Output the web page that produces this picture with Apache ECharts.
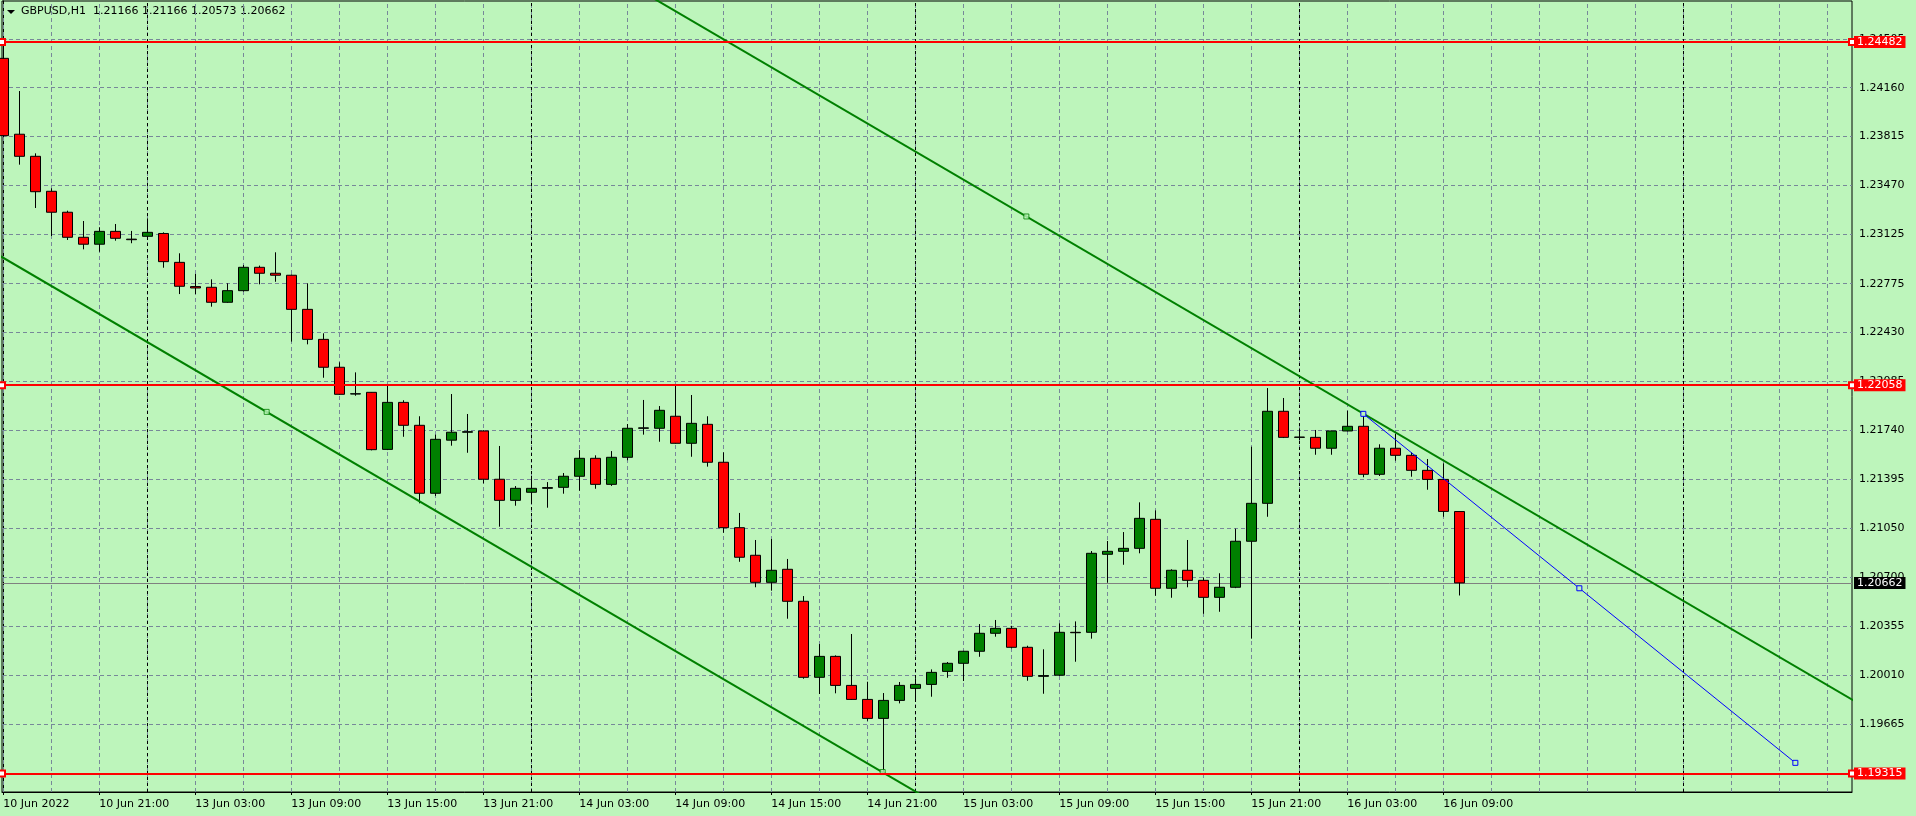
<!DOCTYPE html>
<html><head><meta charset="utf-8">
<script src="https://cdn.jsdelivr.net/npm/echarts@6/dist/echarts.min.js"></script>
<style>html,body{margin:0;padding:0;background:#bdf5bb;} #c{width:1916px;height:816px;}</style>
</head><body><div id="c"></div>
<script>
// ---- data (GBPUSD H1, bar index 0 = 10 Jun 2022 15:00) ----
const opens  = [1.24367,1.23831,1.23675,1.23428,1.23280,1.23103,1.23054,1.23145,1.23090,1.23110,
                1.23130,1.22926,1.22755,1.22750,1.22644,1.22726,1.22891,1.22849,1.22835,1.22594,
                1.22382,1.22185,1.21996,1.22008,1.21605,1.21937,1.21775,1.21295,1.21670,1.21726,
                1.21735,1.21394,1.21245,1.21302,1.21330,1.21337,1.21415,1.21542,1.21358,1.21549,
                1.21754,1.21754,1.21839,1.21648,1.21782,1.21514,1.21052,1.20857,1.20666,1.20758,
                1.20532,1.19995,1.20143,1.19938,1.19839,1.19705,1.19832,1.19917,1.19945,1.20037,
                1.20094,1.20179,1.20306,1.20341,1.20207,1.20002,1.20010,1.20313,1.20313,1.20864,
                1.20885,1.20906,1.21111,1.20624,1.20751,1.20680,1.20560,1.20631,1.20956,1.21224,
                1.21874,1.21690,1.21690,1.21613,1.21735,1.21768,1.21429,1.21613,1.21563,1.21457,
                1.21393,1.21166];
const closes = [1.23821,1.23675,1.23425,1.23280,1.23103,1.23054,1.23145,1.23096,1.23086,1.23138,
                1.22931,1.22757,1.22745,1.22644,1.22726,1.22891,1.22849,1.22835,1.22594,1.22382,
                1.22185,1.21994,1.21998,1.21603,1.21937,1.21775,1.21295,1.21676,1.21726,1.21730,
                1.21394,1.21245,1.21330,1.21330,1.21335,1.21415,1.21542,1.21358,1.21549,1.21754,
                1.21757,1.21881,1.21648,1.21789,1.21514,1.21052,1.20843,1.20666,1.20751,1.20532,
                1.19995,1.20143,1.19938,1.19839,1.19705,1.19832,1.19938,1.19945,1.20030,1.20094,
                1.20179,1.20306,1.20341,1.20207,1.20002,1.20007,1.20313,1.20310,1.20871,1.20885,
                1.20906,1.21118,1.20624,1.20751,1.20680,1.20560,1.20631,1.20956,1.21224,1.21874,
                1.21690,1.21692,1.21613,1.21735,1.21768,1.21429,1.21613,1.21563,1.21457,1.21393,
                1.21167,1.20662];
const lows   = [1.23810,1.23616,1.23310,1.23112,1.23084,1.23018,1.23001,1.23079,1.23061,1.23098,
                1.22888,1.22702,1.22702,1.22613,1.22640,1.22720,1.22771,1.22789,1.22366,1.22347,
                1.22111,1.21990,1.21984,1.21598,1.21600,1.21694,1.21224,1.21276,1.21631,1.21581,
                1.21365,1.21059,1.21207,1.21221,1.21193,1.21292,1.21313,1.21327,1.21347,1.21528,
                1.21709,1.21659,1.21645,1.21553,1.21483,1.21016,1.20811,1.20631,1.20607,1.20409,
                1.19985,1.19877,1.19882,1.19835,1.19688,1.19315,1.19811,1.19827,1.19858,1.19992,
                1.19969,1.20140,1.20282,1.20200,1.19971,1.19879,1.20005,1.20105,1.20268,1.20663,
                1.20790,1.20871,1.20571,1.20557,1.20631,1.20444,1.20458,1.20625,1.20268,1.21129,
                1.21685,1.21670,1.21567,1.21567,1.21733,1.21408,1.21417,1.21525,1.21412,1.21320,
                1.21129,1.20573];
const highs  = [1.24482,1.24136,1.23696,1.23449,1.23291,1.23218,1.23174,1.23197,1.23148,1.23237,
                1.23138,1.22990,1.22844,1.22806,1.22778,1.22907,1.22903,1.22997,1.22840,1.22778,
                1.22425,1.22220,1.22149,1.22010,1.22060,1.21952,1.21839,1.21709,1.21996,1.21855,
                1.21740,1.21629,1.21346,1.21417,1.21374,1.21438,1.21600,1.21563,1.21593,1.21784,
                1.21954,1.21911,1.22053,1.21989,1.21839,1.21584,1.21156,1.20965,1.20972,1.20831,
                1.20569,1.20230,1.20150,1.20301,1.19964,1.19884,1.19962,1.19988,1.20051,1.20103,
                1.20182,1.20371,1.20400,1.20359,1.20218,1.20193,1.20376,1.20390,1.20887,1.20958,
                1.21021,1.21231,1.21174,1.20758,1.20965,1.20701,1.20730,1.21045,1.21624,1.22038,
                1.21968,1.21754,1.21742,1.21738,1.21878,1.21860,1.21641,1.21714,1.21584,1.21537,
                1.21507,1.21166];

const xTickIdx    = [0,6,12,18,24,30,36,42,48,54,60,66,72,78,84,90];
const xTickLabels = ['10 Jun 2022','10 Jun 21:00','13 Jun 03:00','13 Jun 09:00','13 Jun 15:00','13 Jun 21:00',
                     '14 Jun 03:00','14 Jun 09:00','14 Jun 15:00','14 Jun 21:00','15 Jun 03:00','15 Jun 09:00',
                     '15 Jun 15:00','15 Jun 21:00','16 Jun 03:00','16 Jun 09:00'];
const yTicks = [1.24505,1.24160,1.23815,1.23470,1.23125,1.22775,1.22430,1.22085,1.21740,1.21395,
                1.21050,1.20700,1.20355,1.20010,1.19665];
const daySeparators = [9,33,57,81,105];
const levelLines = [1.24482,1.22058,1.19315];
const lastPrice = 1.20662;
const headerText = 'GBPUSD,H1  1.21166 1.21166 1.20573 1.20662';
// trend lines: [bar index, price]
const channelLow  = [[-1,1.23024],[58,1.19123]];
const channelHigh = [[40,1.24833],[118,1.19676]];
const channelAnchors = [[16.46,1.21870],[54.96,1.19326],[63.94,1.23250]];
const blueLine = [[85,1.21856],[98.5,1.20624],[112,1.19391]];

// ---- chart ----
const BG = '#bdf5bb';
const FONT = 'DejaVu Sans';
const xMin = -0.08, xMax = 115.54, yMin = 1.19185, yMax = 1.24772;
const xGrid = [];
for (let v = 0; v <= xMax; v += 3) xGrid.push(v);

const candles = opens.map((o, i) => [i, o, closes[i], lows[i], highs[i]]);

const chart = echarts.init(document.getElementById('c'), null, {renderer: 'canvas'});
chart.setOption({
  backgroundColor: BG,
  animation: false,
  textStyle: {fontFamily: FONT},
  graphic: [
    {type: 'polygon', shape: {points: [[7, 10], [15, 10], [11, 14]]}, style: {fill: '#000'}},
    {type: 'text', left: 21, top: 6, style: {text: headerText, font: '11px "DejaVu Sans"', fill: '#000'}}
  ],
  grid: {left: 2, top: 1, right: 64, bottom: 24, show: true, borderColor: '#000', borderWidth: 1, backgroundColor: 'transparent'},
  xAxis: {
    type: 'value', min: xMin, max: xMax,
    axisLine: {show: true, onZero: false, lineStyle: {color: '#000', width: 1}},
    axisTick: {show: true, length: 3, customValues: xTickIdx, lineStyle: {color: '#000'}},
    axisLabel: {
      customValues: xTickIdx, align: 'left', margin: 7, color: '#000', fontSize: 11, fontFamily: FONT,
      formatter: v => { const k = xTickIdx.indexOf(Math.round(v)); return k >= 0 ? xTickLabels[k] : ''; }
    },
    splitLine: {show: false}
  },
  yAxis: {
    type: 'value', position: 'right', min: yMin, max: yMax, scale: true,
    axisLine: {show: true, lineStyle: {color: '#000', width: 1}},
    axisTick: {show: true, length: 3, customValues: yTicks, lineStyle: {color: '#000'}},
    axisLabel: {customValues: yTicks, margin: 7, color: '#000', fontSize: 11, fontFamily: FONT,
                formatter: v => v.toFixed(5)},
    splitLine: {show: false}
  },
  series: [
    { // grid lines
      type: 'line', data: [], z: 1, silent: true,
      markLine: {
        z: 1, precision: 5, silent: true, symbol: ['none', 'none'], animation: false, label: {show: false},
        lineStyle: {color: '#778899', width: 1, type: [4, 3]},
        data: yTicks.map(v => ({yAxis: v})).concat(xGrid.map(v => ({xAxis: v})))
      }
    },
    { // day separators
      type: 'line', data: [], z: 1, silent: true,
      markLine: {
        z: 1, precision: 5, silent: true, symbol: ['none', 'none'], animation: false, label: {show: false},
        lineStyle: {color: '#000', width: 1, type: [3, 3]},
        data: daySeparators.map(v => ({xAxis: v}))
      }
    },
    { // current price line
      type: 'line', data: [], z: 2, clip: false, silent: true,
      markLine: {
        z: 2, precision: 5, silent: true, symbol: ['none', 'none'], animation: false,
        lineStyle: {color: '#808080', width: 1, type: 'solid'},
        label: {show: true, position: 'end', distance: 2, formatter: p => p.value.toFixed(5),
                backgroundColor: '#000', color: '#fff', padding: [1, 3, 0, 3], fontSize: 11, fontFamily: FONT},
        data: [{yAxis: lastPrice}]
      }
    },
    {
      type: 'candlestick', z: 3, barWidth: 10, data: candles,
      encode: {x: 0, y: [1, 2, 3, 4]},
      itemStyle: {color: '#008000', color0: '#ff0000', borderColor: '#000', borderColor0: '#000',
                  borderColorDoji: '#000', borderWidth: 1}
    },
    {
      type: 'line', data: channelLow, z: 5, showSymbol: false, silent: true,
      lineStyle: {color: '#008000', width: 2}
    },
    {
      type: 'line', data: channelHigh, z: 5, showSymbol: false, silent: true,
      lineStyle: {color: '#008000', width: 2}
    },
    {
      type: 'scatter', data: channelAnchors, z: 6, symbol: 'rect', symbolSize: 5, silent: true,
      itemStyle: {color: BG, borderColor: '#008000', borderWidth: 1}
    },
    {
      type: 'line', data: blueLine, z: 5, showSymbol: true, symbol: 'rect', symbolSize: 5, silent: true,
      lineStyle: {color: '#0000ff', width: 1},
      itemStyle: {color: BG, borderColor: '#0000ff', borderWidth: 1}
    },
    { // horizontal level lines
      type: 'line', data: [], z: 7, clip: false, silent: true,
      markLine: {
        z: 7, precision: 5, silent: true, symbol: ['emptyRect', 'emptyRect'], symbolSize: 6, animation: false,
        lineStyle: {color: '#ff0000', width: 2, type: 'solid'},
        label: {show: true, position: 'end', distance: 2, formatter: p => p.value.toFixed(5),
                backgroundColor: '#ff0000', color: '#fff', padding: [1, 3, 0, 3], fontSize: 11, fontFamily: FONT},
        data: levelLines.map(v => ({yAxis: v}))
      }
    }
  ]
});
</script>
</body></html>
